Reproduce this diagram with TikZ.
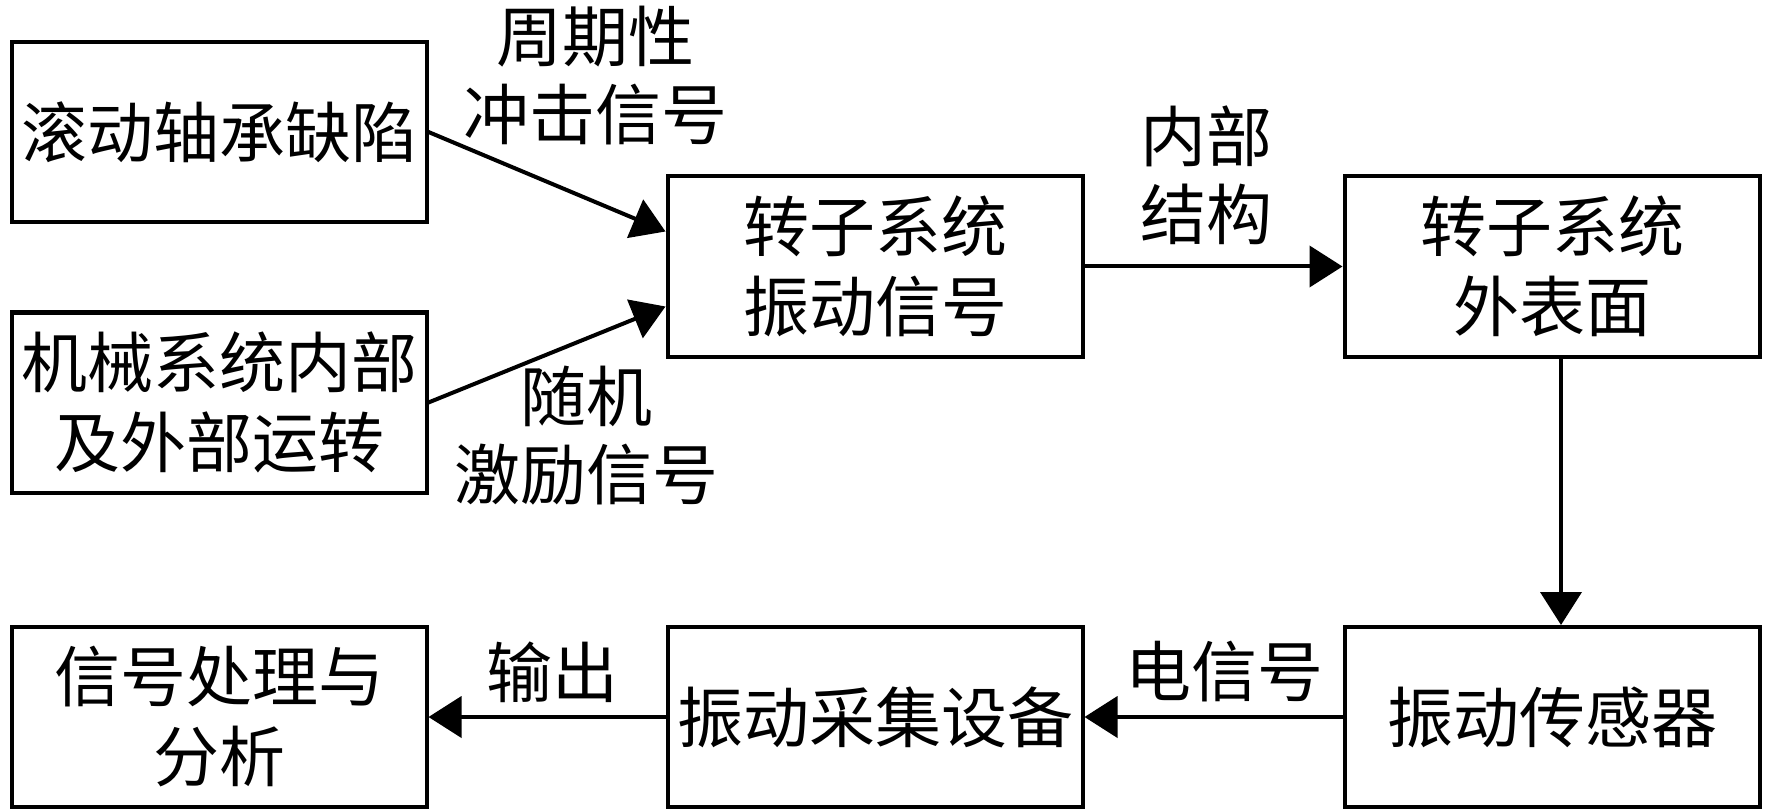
\documentclass[tikz,border=0pt]{standalone}
\usepackage{fontspec}
\setmainfont{Noto Sans CJK SC}
\usetikzlibrary{arrows.meta}
\begin{document}
\begin{tikzpicture}[x=1pt,y=-1pt,
  box/.style={draw, line width=4pt, minimum width=415pt, minimum height=180pt, inner sep=0pt, align=center, font=\fontsize{66}{80}\selectfont},
  lbl/.style={align=center, inner sep=0pt, font=\fontsize{66}{78}\selectfont},
  arr/.style={line width=4pt, -{Triangle[length=33pt,width=41pt]}}]
\useasboundingbox (0,0) rectangle (1772,810);
\node[box] (A) at (219,132) {\raisebox{5pt}{滚动轴承缺陷}};
\node[box] (B) at (219,402.5) {机械系统内部\\及外部运转};
\node[box] (C) at (875,266.5) {转子系统\\振动信号};
\node[box] (D) at (1552,266.5) {转子系统\\外表面};
\node[box] (E) at (1552,717) {振动传感器};
\node[box] (F) at (875,717) {振动采集设备};
\node[box] (G) at (219,717) {信号处理与\\分析};
\node[lbl] (l1) at (595,76) {周期性\\冲击信号};
\node[lbl] (l2) at (586,436) {随机\\激励信号};
\node[lbl] (l3) at (1206,175) {内部\\结构};
\node[lbl] (l4) at (1224,672) {电信号};
\node[lbl] (l5) at (552,672) {输出};
\draw[arr] (A.east) -- ([yshift=35pt]C.west);
\draw[arr] (B.east) -- ([yshift=-40pt]C.west);
\draw[arr] (C.east) -- (D.west);
\draw[arr] ([xshift=9pt]D.south) -- ([xshift=9pt]E.north);
\draw[arr] (E.west) -- (F.east);
\draw[arr] (F.west) -- (G.east);
\end{tikzpicture}
\end{document}
